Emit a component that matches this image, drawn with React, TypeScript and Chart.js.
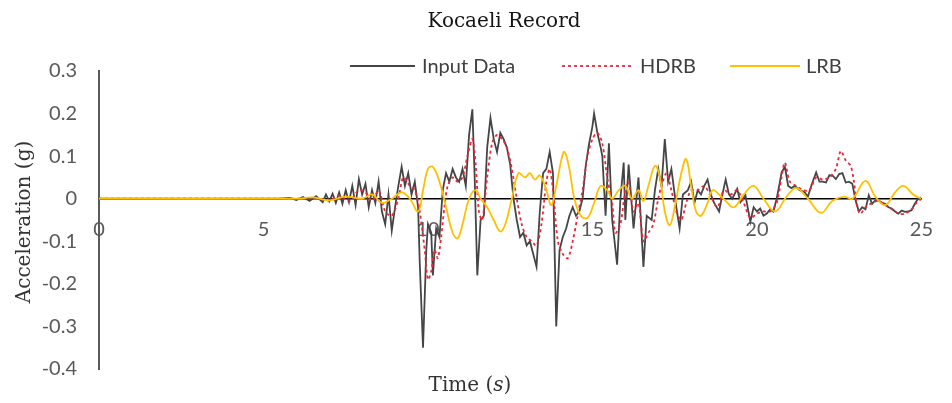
import React, { useEffect, useRef } from "react";
import { Chart, registerables } from "chart.js";

Chart.register(...registerables);

const CHART_TITLE = "Kocaeli Record";
const X_TITLE = "Time (s)";
const Y_TITLE = "Acceleration (g)";
const SERIES_NAMES = ["Input Data", "HDRB", "LRB"];
const SERIES_COLORS = ["#454545", "#e8283c", "#ffc000"];
const X_RANGE = [0, 25];
const X_STEP = 5;
const Y_RANGE = [-0.4, 0.3];
const Y_STEP = 0.1;

// Input Data (time s, acceleration g)
const inputT = [
  0, 5.5, 5.8, 6.0, 6.2, 6.4, 6.6, 6.8, 6.9, 7.0, 7.1, 7.2, 7.3, 7.4, 7.5, 7.6, 7.7, 7.8, 7.9, 8.0,
  8.1, 8.2, 8.3, 8.4, 8.5, 8.6, 8.7, 8.8, 8.9, 9.0, 9.1, 9.2, 9.3, 9.4, 9.5, 9.6, 9.7, 9.75, 9.85, 9.95,
  10.0, 10.1, 10.15, 10.25, 10.35, 10.45, 10.55, 10.65, 10.75, 10.85, 10.95, 11.05, 11.15, 11.25, 11.35, 11.42, 11.5, 11.6, 11.7, 11.8,
  11.9, 12.0, 12.1, 12.2, 12.3, 12.4, 12.5, 12.6, 12.7, 12.8, 12.9, 13.0, 13.1, 13.2, 13.3, 13.4, 13.5, 13.6, 13.7, 13.8,
  13.9, 14.0, 14.1, 14.2, 14.3, 14.4, 14.5, 14.6, 14.7, 14.8, 14.9, 15.0, 15.05, 15.15, 15.25, 15.3, 15.4, 15.5, 15.6, 15.75,
  15.85, 15.95, 16.0, 16.1, 16.25, 16.4, 16.55, 16.65, 16.8, 16.9, 17.0, 17.1, 17.2, 17.3, 17.4, 17.55, 17.65, 17.75, 17.9, 18.0,
  18.1, 18.2, 18.3, 18.4, 18.5, 18.6, 18.7, 18.85, 18.95, 19.05, 19.15, 19.25, 19.4, 19.5, 19.65, 19.8, 19.9, 20.0, 20.1, 20.2,
  20.3, 20.4, 20.5, 20.6, 20.7, 20.75, 20.85, 20.95, 21.05, 21.15, 21.3, 21.45, 21.55, 21.65, 21.8, 21.9, 22.0, 22.1, 22.2, 22.3,
  22.4, 22.5, 22.6, 22.7, 22.8, 22.9, 23.0, 23.1, 23.2, 23.3, 23.4, 23.5, 23.6, 23.7, 23.8, 23.9, 24.0, 24.1, 24.2, 24.3,
  24.4, 24.5, 24.6, 24.7, 24.8, 24.9, 25.0,
];
const inputA = [
  0, 0, 0.002, -0.003, 0.004, -0.005, 0.006, -0.008, 0.01, -0.006, 0.012, -0.01, 0.015, -0.012, 0.02, -0.008, 0.03, -0.015, 0.046, 0.01,
  0.035, -0.02, 0.02, -0.01, 0.04, -0.03, -0.06, 0.01, -0.075, -0.02, 0.03, 0.075, 0.03, 0.06, 0.01, 0.04, -0.02, -0.15, -0.35, -0.12,
  -0.06, -0.08, -0.18, -0.07, -0.09, 0.02, 0.06, 0.04, 0.07, 0.05, 0.04, 0.07, 0.03, 0.15, 0.21, 0.05, -0.18, -0.05, -0.04, 0.12,
  0.19, 0.14, 0.11, 0.155, 0.14, 0.12, 0.08, 0.0, -0.05, -0.09, -0.08, -0.11, -0.1, -0.13, -0.16, -0.03, 0.06, 0.07, 0.11, 0.06,
  -0.3, -0.12, -0.09, -0.07, -0.04, -0.02, -0.04, -0.03, 0.0, 0.08, 0.13, 0.17, 0.2, 0.155, 0.12, 0.1, -0.04, 0.13, -0.05, -0.155,
  0.0, 0.085, -0.05, 0.08, -0.07, 0.05, -0.16, -0.04, -0.05, 0.02, 0.07, 0.03, 0.14, 0.04, 0.07, -0.02, -0.07, 0.01, 0.02, 0.04,
  -0.01, 0.02, 0.01, 0.03, 0.045, 0.01, -0.01, -0.03, 0.01, 0.045, 0.01, 0.0, 0.023, -0.008, 0.008, -0.054, -0.02, -0.03, -0.023, -0.04,
  -0.035, -0.025, -0.03, 0.0, 0.04, 0.062, 0.075, 0.03, 0.025, 0.03, 0.02, 0.015, 0.005, 0.03, 0.062, 0.04, 0.04, 0.038, 0.055, 0.054,
  0.046, 0.058, 0.06, 0.038, 0.04, 0.035, -0.004, -0.03, -0.02, -0.025, 0.008, -0.012, -0.004, -0.004, -0.01, -0.012, -0.02, -0.023, -0.03, -0.035,
  -0.028, -0.031, -0.03, -0.027, -0.012, 0.0, 0.003,
];

// HDRB response
const hdrbT = [
  0, 5.5, 6.0, 6.5, 7.0, 7.3, 7.6, 7.9, 8.1, 8.3, 8.5, 8.7, 8.9, 9.1, 9.25, 9.45, 9.6, 9.75, 9.9, 10.0,
  10.1, 10.2, 10.3, 10.4, 10.5, 10.6, 10.75, 10.9, 11.05, 11.2, 11.35, 11.45, 11.55, 11.65, 11.8, 11.95, 12.1, 12.25, 12.4, 12.55,
  12.7, 12.85, 13.0, 13.15, 13.3, 13.45, 13.6, 13.7, 13.8, 13.95, 14.1, 14.25, 14.4, 14.55, 14.7, 14.85, 15.0, 15.15, 15.3, 15.45,
  15.6, 15.7, 15.85, 16.0, 16.1, 16.25, 16.4, 16.55, 16.7, 16.85, 17.0, 17.1, 17.25, 17.4, 17.55, 17.7, 17.85, 18.0, 18.2, 18.4,
  18.6, 18.8, 19.0, 19.2, 19.4, 19.6, 19.8, 20.0, 20.2, 20.4, 20.6, 20.75, 20.85, 21.0, 21.2, 21.4, 21.6, 21.8, 22.0, 22.2,
  22.4, 22.55, 22.7, 22.85, 22.95, 23.05, 23.15, 23.3, 23.5, 23.7, 23.9, 24.1, 24.3, 24.5, 24.7, 24.85, 25.0,
];
const hdrbA = [
  0, 0, 0, 0.002, -0.004, 0.008, -0.006, 0.02, 0.015, -0.005, 0.02, -0.03, -0.04, 0.0, 0.05, 0.03, 0.02, -0.03, -0.12, -0.19,
  -0.17, -0.12, -0.14, -0.09, -0.02, 0.03, 0.05, 0.04, 0.05, 0.1, 0.14, 0.08, -0.03, -0.05, 0.05, 0.13, 0.15, 0.14, 0.12, 0.07,
  0.0, -0.06, -0.09, -0.1, -0.11, -0.06, 0.04, 0.07, 0.02, -0.1, -0.13, -0.14, -0.1, -0.04, 0.02, 0.1, 0.14, 0.155, 0.13, 0.05,
  -0.01, -0.08, -0.06, 0.02, 0.04, -0.03, -0.01, -0.1, -0.08, -0.06, 0.0, 0.03, 0.06, 0.02, -0.03, -0.05, -0.01, 0.02, 0.02, 0.03,
  0.005, -0.02, 0.02, 0.01, 0.02, -0.01, -0.045, -0.035, -0.03, -0.03, -0.01, 0.05, 0.085, 0.04, 0.03, 0.02, 0.02, 0.05, 0.045, 0.05,
  0.07, 0.112, 0.09, 0.077, 0.04, -0.02, -0.035, -0.02, -0.01, -0.005, -0.015, -0.025, -0.035, -0.035, -0.025, -0.01, 0.0,
];

// LRB response
const lrbT = [
  0, 6.0, 6.5, 7.0, 7.5, 8.0, 8.3, 8.6, 8.9, 9.2, 9.45, 9.7, 9.85, 10.0, 10.15, 10.35, 10.55, 10.75, 10.9, 11.05,
  11.25, 11.45, 11.6, 11.8, 12.0, 12.2, 12.35, 12.55, 12.75, 12.95, 13.1, 13.25, 13.4, 13.6, 13.75, 13.9, 14.05, 14.15, 14.3, 14.45,
  14.65, 14.85, 15.05, 15.25, 15.45, 15.6, 15.8, 16.0, 16.2, 16.4, 16.55, 16.7, 16.9, 17.05, 17.2, 17.35, 17.5, 17.7, 17.85, 18.0,
  18.15, 18.3, 18.5, 18.65, 18.85, 19.05, 19.3, 19.6, 19.9, 20.2, 20.55, 20.9, 21.2, 21.55, 21.95, 22.3, 22.65, 22.9, 23.3, 23.6,
  23.9, 24.2, 24.45, 24.75, 25.0,
];
const lrbA = [
  0, 0, 0.003, -0.004, 0.005, 0.0, 0.01, -0.01, 0.0, 0.015, 0.0, -0.03, 0.02, 0.07, 0.075, 0.04, -0.02, -0.08, -0.093, -0.06,
  0.0, 0.02, 0.0, -0.02, -0.05, -0.077, -0.06, 0.0, 0.06, 0.05, 0.06, 0.045, 0.055, 0.02, -0.015, 0.03, 0.09, 0.11, 0.07, 0.0,
  -0.04, -0.045, -0.01, 0.03, 0.02, 0.0, 0.02, 0.03, 0.0, 0.02, -0.005, 0.03, 0.077, 0.05, -0.03, -0.062, -0.02, 0.06, 0.093, 0.03,
  -0.03, -0.04, -0.01, 0.02, 0.01, -0.005, -0.02, 0.01, 0.03, 0.0, -0.03, 0.005, 0.025, 0.0, -0.033, -0.005, 0.005, 0.0, 0.042, 0.005,
  -0.015, 0.015, 0.03, 0.01, 0.0,
];

const pairs = (t: number[], a: number[]) => t.map((x, i) => ({ x, y: a[i] }));

const SERIF = "'DejaVu Serif', serif";
const SANS = "Lato, 'Open Sans', sans-serif";

const textPlugin = {
  id: "texts",
  afterDraw(chart: any) {
    const ctx = chart.ctx as CanvasRenderingContext2D;
    ctx.save();
    // title
    ctx.fillStyle = "#141414";
    ctx.font = `20px ${SERIF}`;
    ctx.textAlign = "center";
    ctx.textBaseline = "middle";
    ctx.fillText(CHART_TITLE, 504, 22);

    // y title
    ctx.save();
    ctx.translate(25, 222);
    ctx.rotate(-Math.PI / 2);
    ctx.fillStyle = "#333333";
    ctx.font = `20px ${SERIF}`;
    ctx.fillText(Y_TITLE, 0, 0);
    ctx.restore();

    // x title with italic s
    const m = X_TITLE.match(/^(.*\()(.*)(\))$/);
    ctx.fillStyle = "#333333";
    ctx.textAlign = "left";
    if (m) {
      const f1 = `20px ${SERIF}`;
      const f2 = `italic 20px ${SERIF}`;
      ctx.font = f1;
      const w1 = ctx.measureText(m[1]).width;
      const w3 = ctx.measureText(m[3]).width;
      ctx.font = f2;
      const w2 = ctx.measureText(m[2]).width;
      let x = 470 - (w1 + w2 + w3) / 2;
      const y = 386;
      ctx.font = f1;
      ctx.fillText(m[1], x, y);
      x += w1;
      ctx.font = f2;
      ctx.fillText(m[2], x, y);
      x += w2;
      ctx.font = f1;
      ctx.fillText(m[3], x, y);
    }

    // legend
    const items = [
      { x0: 350, x1: 415, tx: 422 },
      { x0: 562, x1: 632, tx: 640 },
      { x0: 730, x1: 800, tx: 806 },
    ];
    const ly = 66;
    chart.data.datasets.forEach((ds: any, i: number) => {
      const it = items[i];
      ctx.save();
      ctx.strokeStyle = ds.borderColor;
      ctx.lineWidth = ds.borderWidth;
      ctx.setLineDash(ds.borderDash || []);
      ctx.beginPath();
      ctx.moveTo(it.x0, ly);
      ctx.lineTo(it.x1, ly);
      ctx.stroke();
      ctx.restore();
      ctx.fillStyle = "#404040";
      ctx.font = `20px ${SANS}`;
      ctx.textAlign = "left";
      ctx.textBaseline = "middle";
      ctx.fillText(ds.label, it.tx, ly + 1);
    });
    ctx.restore();
  },
};

export default function App() {
  const ref = useRef<HTMLCanvasElement | null>(null);
  useEffect(() => {
    if (!ref.current) return;
    const chart = new Chart(ref.current, {
      type: "line",
      data: {
        datasets: [
          {
            label: SERIES_NAMES[0],
            data: pairs(inputT, inputA),
            borderColor: SERIES_COLORS[0],
            borderWidth: 1.8,
            pointRadius: 0,
            tension: 0,
            order: 3,
          },
          {
            label: SERIES_NAMES[1],
            data: pairs(hdrbT, hdrbA),
            borderColor: SERIES_COLORS[1],
            borderWidth: 1.8,
            borderDash: [3, 3],
            pointRadius: 0,
            tension: 0.3,
            order: 2,
          },
          {
            label: SERIES_NAMES[2],
            data: pairs(lrbT, lrbA),
            borderColor: SERIES_COLORS[2],
            borderWidth: 1.8,
            pointRadius: 0,
            tension: 0.4,
            order: 1,
          },
        ],
      },
      options: {
        responsive: false,
        animation: false,
        layout: { padding: { left: 0, right: 18, top: 71, bottom: 30 } },
        plugins: {
          legend: { display: false },
          title: { display: false },
          tooltip: { enabled: false },
        },
        scales: {
          x: {
            type: "linear",
            min: X_RANGE[0],
            max: X_RANGE[1],
            position: { y: 0 },
            z: 1,
            grid: { display: false, drawTicks: false },
            border: { display: true, color: "#000000", width: 1.5 },
            ticks: {
              stepSize: X_STEP,
              padding: 19,
              maxRotation: 0,
              autoSkip: false,
              color: "#595959",
              font: { family: SANS, size: 20 },
            },
          },
          y: {
            type: "linear",
            min: Y_RANGE[0],
            max: Y_RANGE[1],
            position: "left",
            afterFit: (s: any) => {
              s.width = 99;
            },
            grid: { display: false, drawTicks: false },
            border: { display: true, color: "#595959", width: 2 },
            ticks: {
              stepSize: Y_STEP,
              padding: 22,
              color: "#595959",
              font: { family: SANS, size: 20 },
              callback: (v: any) => {
                const r = Math.round(Number(v) * 10) / 10;
                return r === 0 ? "0" : String(r);
              },
            },
          },
        },
      },
      plugins: [textPlugin],
    });
    return () => chart.destroy();
  }, []);
  return (
    <div style={{ position: "absolute", left: 0, top: 0, width: 952, height: 403, background: "#fff" }}>
      <canvas ref={ref} width={952} height={403} style={{ display: "block" }} />
    </div>
  );
}
